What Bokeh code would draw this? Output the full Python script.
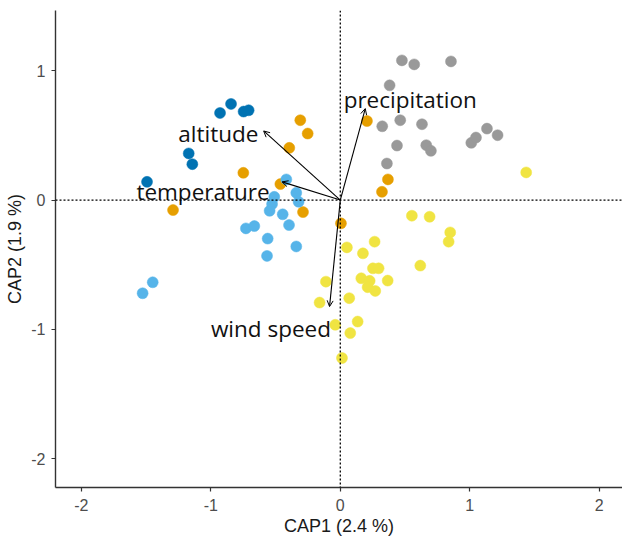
from bokeh.plotting import figure
from bokeh.models import ColumnDataSource, Arrow, OpenHead, Span, FixedTicker
from bokeh.embed import file_html
from bokeh.resources import INLINE
from bokeh.core.properties import value

# ---- data ----
dark_blue_x = [-0.929, -0.844, -0.747, -0.708, -1.171, -1.143, -1.493]
dark_blue_y = [0.674, 0.744, 0.685, 0.695, 0.361, 0.278, 0.141]

orange_x = [-0.309, -0.252, -0.394, -0.749, -0.463, -1.292, -0.288, 0.206, 0.368, 0.322, 0.005]
orange_y = [0.618, 0.515, 0.404, 0.211, 0.124, -0.077, -0.093, 0.612, 0.160, 0.064, -0.180]

gray_x = [0.476, 0.571, 0.855, 0.381, 0.324, 0.463, 0.631, 0.438, 0.664, 0.700, 0.360,
          1.012, 1.048, 1.133, 1.215]
gray_y = [1.081, 1.050, 1.073, 0.888, 0.571, 0.618, 0.587, 0.422, 0.425, 0.381, 0.283,
          0.443, 0.484, 0.553, 0.502]

yellow_x = [1.436, 0.553, 0.690, 0.849, 0.837, 0.618, 0.265, 0.051, 0.175, 0.252, 0.296,
            0.162, 0.227, 0.366, 0.211, 0.270, -0.111, -0.160, 0.069, 0.134, -0.039, 0.077, 0.013]
yellow_y = [0.214, -0.121, -0.129, -0.250, -0.322, -0.507, -0.322, -0.366, -0.412, -0.528, -0.528,
            -0.605, -0.625, -0.623, -0.674, -0.703, -0.631, -0.793, -0.759, -0.940, -0.965, -1.029, -1.222]

light_blue_x = [-0.417, -0.340, -0.322, -0.510, -0.527, -0.546, -0.445, -0.396, -0.729, -0.664,
                -0.561, -0.340, -0.566, -1.527, -1.449]
light_blue_y = [0.160, 0.056, -0.013, 0.025, -0.031, -0.083, -0.110, -0.193, -0.219, -0.201,
                -0.298, -0.359, -0.432, -0.721, -0.636]

env_names = ["altitude", "temperature", "precipitation", "wind speed"]
env_x = [-0.592, -0.450, 0.193, -0.083]
env_y = [0.535, 0.141, 0.708, -0.824]
label_x = [-0.633, -0.546, 0.026, -0.072]
label_y = [0.517, 0.068, 0.775, -0.996]
label_align = ["right", "right", "left", "right"]

x_ticks = [-2, -1, 0, 1, 2]
y_ticks = [-2, -1, 0, 1]
x_tick_labels = ["-2", "-1", "0", "1", "2"]
y_tick_labels = ["-2", "-1", "0", "1"]

# ---- figure ----
p = figure(width=622, height=538, output_backend="svg", toolbar_location=None,
           x_range=(-2.2, 2.18), y_range=(-2.224, 1.467),
           min_border_left=55, min_border_right=0, min_border_top=10, min_border_bottom=50)
p.outline_line_color = None
p.grid.visible = False
p.background_fill_color = "white"

for ax in (p.xaxis[0], p.yaxis[0]):
    ax.axis_line_color = "#333333"
    ax.axis_line_width = 1.4
    ax.major_tick_line_color = "#333333"
    ax.major_tick_line_width = 1.2
    ax.major_tick_in = 0
    ax.major_tick_out = 4
    ax.minor_tick_line_color = None
    ax.major_label_text_font = "Liberation Sans"
    ax.major_label_text_font_size = "16px"
    ax.major_label_text_color = "#4D4D4D"
    ax.axis_label_text_font = "Liberation Sans"
    ax.axis_label_text_font_size = "18px"
    ax.axis_label_text_font_style = "normal"
    ax.axis_label_text_color = "#1a1a1a"

p.xaxis.major_label_standoff = 7
p.xaxis.axis_label_standoff = 2
p.yaxis.major_label_standoff = 6
p.yaxis.axis_label_standoff = 3

p.xaxis.ticker = FixedTicker(ticks=x_ticks)
p.yaxis.ticker = FixedTicker(ticks=y_ticks)
p.xaxis.major_label_overrides = dict(zip(x_ticks, x_tick_labels))
p.yaxis.major_label_overrides = dict(zip(y_ticks, y_tick_labels))
p.xaxis.axis_label = "CAP1 (2.4 %)"
p.yaxis.axis_label = "CAP2 (1.9 %)"

p.add_layout(Span(location=0, dimension="width", line_color="black", line_dash="2 2", line_width=1.3))
p.add_layout(Span(location=0, dimension="height", line_color="black", line_dash="2 2", line_width=1.3))

groups = [
    (gray_x, gray_y, "#999999"),
    (orange_x, orange_y, "#E69F00"),
    (yellow_x, yellow_y, "#F0E442"),
    (light_blue_x, light_blue_y, "#56B4E9"),
    (dark_blue_x, dark_blue_y, "#0072B2"),
]
for gx, gy, col in groups:
    src = ColumnDataSource(dict(x=gx, y=gy))
    p.scatter("x", "y", source=src, size=11, fill_color=col, line_color=col, line_width=0.5)

arrow_src = ColumnDataSource(dict(x=env_x, y=env_y))
p.add_layout(Arrow(end=OpenHead(size=6, line_width=1, line_color="black"),
                   x_start=0, y_start=0, x_end="x", y_end="y", source=arrow_src,
                   line_color="black", line_width=1.1))

lab_src = ColumnDataSource(dict(x=label_x, y=label_y, t=env_names, a=label_align))
p.text("x", "y", text="t", source=lab_src, text_align="a", text_baseline="middle",
       text_font=value("Open Sans"), text_font_size="22.5px", text_color="#111111")

open("out.html", "w").write(file_html(p, INLINE))
